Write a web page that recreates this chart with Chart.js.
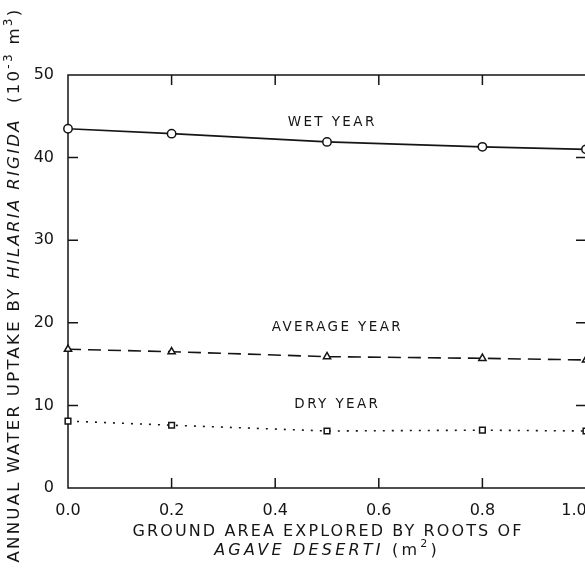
<!DOCTYPE html>
<html>
<head>
<meta charset="utf-8">
<script src="https://cdn.jsdelivr.net/npm/chart.js@4.4.0/dist/chart.umd.min.js"></script>
<style>
    html, body { margin: 0; padding: 0; background: #fff; overflow: hidden; }
    #wrap { width: 585px; height: 570px; overflow: hidden; }
</style>
</head>
<body>
<div id="wrap"><canvas id="chart" width="592" height="570"></canvas></div>
<script>
"use strict";

// values
const groundArea = [0.0, 0.2, 0.5, 0.8, 1.0];
const wetYear = [43.5, 42.9, 41.9, 41.3, 41.0];
const averageYear = [16.8, 16.5, 15.9, 15.7, 15.5];
const dryYear = [8.1, 7.6, 6.9, 7.0, 6.9];

const seriesNames = ['WET YEAR', 'AVERAGE YEAR', 'DRY YEAR'];
// where the in-plot labels sit, in data units
const seriesLabelX = [0.51, 0.52, 0.52];
const seriesLabelY = [44.3, 19.4, 10.1];

const xTitle1 = [{ text: 'GROUND AREA EXPLORED BY ROOTS OF' }];
const xTitle2 = [{ text: 'AGAVE DESERTI', italic: true }, { text: ' (m' }, { text: '2', sup: true }, { text: ')' }];
const yTitle = [
    { text: 'ANNUAL WATER UPTAKE BY ' },
    { text: 'HILARIA RIGIDA', italic: true },
    { text: '  (10' }, { text: '-3', sup: true }, { text: ' m' }, { text: '3', sup: true }, { text: ')' }
];

const INK = '#151515';
const FONT = '"DejaVu Sans", sans-serif';

function toPoints(values) {
    return groundArea.map((x, i) => ({ x: x, y: values[i] }));
}

function segFont(seg, size) {
    const s = seg.sup ? Math.round(size * 0.7) : size;
    return (seg.italic ? 'italic ' : '') + s + 'px ' + FONT;
}

function drawRich(ctx, segs, cx, cy, size, spacing) {
    let total = 0;
    segs.forEach(seg => {
        ctx.font = segFont(seg, size);
        ctx.letterSpacing = spacing + 'px';
        total += ctx.measureText(seg.text).width;
    });
    let x = cx - total / 2;
    segs.forEach(seg => {
        ctx.font = segFont(seg, size);
        ctx.letterSpacing = spacing + 'px';
        ctx.fillText(seg.text, x, seg.sup ? cy - size * 0.4 : cy);
        x += ctx.measureText(seg.text).width;
    });
}

const framePlugin = {
    id: 'frame',
    beforeDatasetsDraw(chart) {
        const { ctx, chartArea: a, scales } = chart;
        ctx.save();
        ctx.strokeStyle = INK;
        ctx.lineWidth = 1.5;
        ctx.strokeRect(a.left, a.top, a.right - a.left, a.bottom - a.top);
        const len = 10;
        ctx.beginPath();
        scales.x.ticks.forEach(t => {
            const px = scales.x.getPixelForValue(t.value);
            if (px <= a.left + 1 || px >= a.right - 1) return;
            ctx.moveTo(px, a.bottom); ctx.lineTo(px, a.bottom - len);
            ctx.moveTo(px, a.top); ctx.lineTo(px, a.top + len);
        });
        scales.y.ticks.forEach(t => {
            const py = scales.y.getPixelForValue(t.value);
            if (py <= a.top + 1 || py >= a.bottom - 1) return;
            ctx.moveTo(a.left, py); ctx.lineTo(a.left + len, py);
            ctx.moveTo(a.right, py); ctx.lineTo(a.right - len, py);
        });
        ctx.stroke();
        ctx.restore();
    },
    afterDraw(chart) {
        const { ctx, scales } = chart;
        ctx.save();
        ctx.fillStyle = INK;
        ctx.textBaseline = 'middle';
        ctx.textAlign = 'left';
        seriesNames.forEach((name, i) => {
            const cx = scales.x.getPixelForValue(seriesLabelX[i]);
            const cy = scales.y.getPixelForValue(seriesLabelY[i]);
            drawRich(ctx, [{ text: name }], cx, cy, 13.5, 2.4);
        });
        drawRich(ctx, xTitle1, 328, 532, 16, 2.1);
        drawRich(ctx, xTitle2, 327, 551, 16, 3.2);
        ctx.translate(15, 285);
        ctx.rotate(-Math.PI / 2);
        drawRich(ctx, yTitle, 0, 0, 16.5, 2.3);
        ctx.restore();
    }
};

function lineSet(label, values, style, dash) {
    return {
        label: label,
        data: toPoints(values),
        borderColor: INK,
        borderWidth: 1.6,
        borderDash: dash,
        pointStyle: style,
        pointRadius: style === 'rect' ? 4 : 4.2,
        pointBackgroundColor: '#fff',
        pointBorderColor: INK,
        pointBorderWidth: 1.5,
        tension: 0,
        clip: false
    };
}

new Chart(document.getElementById('chart').getContext('2d'), {
    type: 'line',
    data: {
        datasets: [
            lineSet(seriesNames[0], wetYear, 'circle', []),
            lineSet(seriesNames[1], averageYear, 'triangle', [13, 7]),
            lineSet(seriesNames[2], dryYear, 'rect', [2, 7])
        ]
    },
    options: {
        responsive: false,
        animation: false,
        layout: { padding: { top: 75, right: 6, left: 0, bottom: 0 } },
        plugins: { legend: { display: false }, tooltip: { enabled: false } },
        scales: {
            x: {
                type: 'linear',
                min: 0,
                max: 1,
                grid: { display: false },
                border: { display: false },
                ticks: {
                    stepSize: 0.2,
                    padding: 5,
                    color: INK,
                    font: { family: FONT, size: 16 },
                    // last label sits against the cropped right edge, nudge it left
                    callback: v => v >= 1 ? v.toFixed(1) + '\u2003\u2002' : v.toFixed(1)
                },
                afterFit(scale) {
                    scale.height = 82;
                    scale.paddingLeft = 0;
                    scale.paddingRight = 0;
                }
            },
            y: {
                min: 0,
                max: 50,
                grid: { display: false },
                border: { display: false },
                ticks: {
                    stepSize: 10,
                    padding: 6,
                    color: INK,
                    font: { family: FONT, size: 16 }
                },
                afterFit(scale) {
                    scale.width = 68;
                    scale.paddingTop = 0;
                    scale.paddingBottom = 0;
                }
            }
        }
    },
    plugins: [framePlugin]
});
</script>
</body>
</html>
